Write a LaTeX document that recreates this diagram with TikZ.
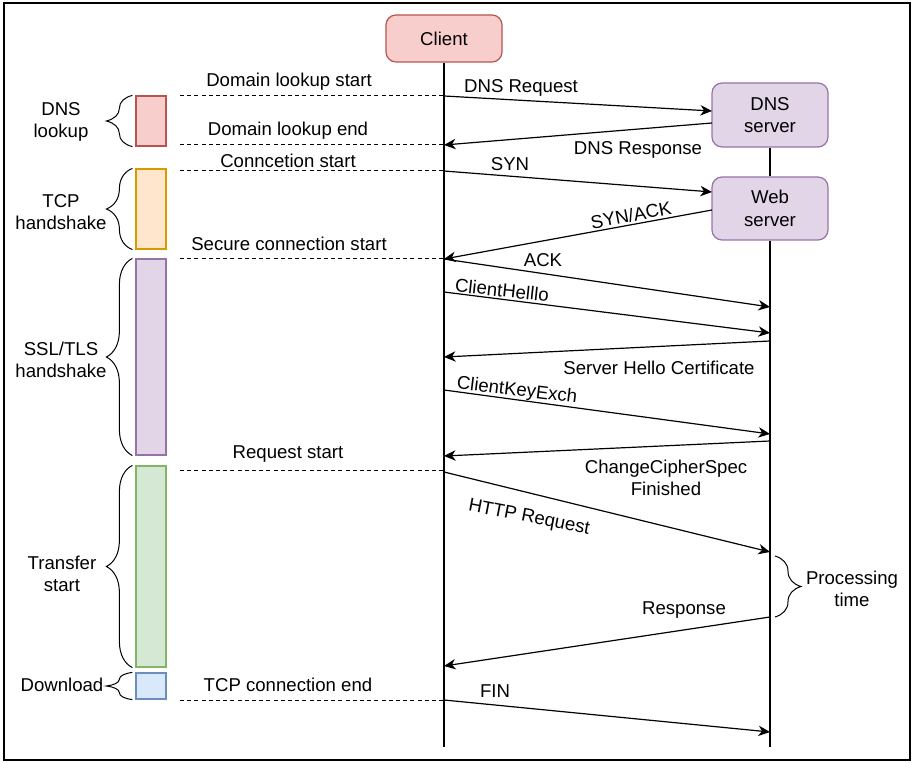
\documentclass[tikz,border=0pt]{standalone}
\usepackage{fontspec}
\setmainfont{Liberation Sans}
\usetikzlibrary{arrows.meta,positioning,decorations.pathreplacing}

\definecolor{redfill}{HTML}{F8CECC}
\definecolor{redline}{HTML}{B85450}
\definecolor{orangefill}{HTML}{FFE6CC}
\definecolor{orangeline}{HTML}{D79B00}
\definecolor{purplefill}{HTML}{E1D5E7}
\definecolor{purpleline}{HTML}{9673A6}
\definecolor{greenfill}{HTML}{D5E8D4}
\definecolor{greenline}{HTML}{82B366}
\definecolor{bluefill}{HTML}{DAE8FC}
\definecolor{blueline}{HTML}{6C8EBF}

\begin{document}
\begin{tikzpicture}[x=0.5pt,y=-0.5pt,font=\fontsize{9.3}{11.2}\selectfont,
                    msg/.style={-{Stealth[length=5.8pt,width=5.2pt,inset=1.8pt]},line width=0.6pt},
                    life/.style={line width=0.6pt},
                    stampline/.style={dash pattern=on 2pt off 1.6pt,line width=0.5pt},
                    actor/.style={draw,rounded corners=5pt,line width=0.6pt,align=center,
                                  minimum width=58pt},
                    phase/.style={draw,line width=0.6pt,minimum width=15pt,inner sep=0pt},
                    lbl/.style={inner sep=0pt,align=center,yshift=-1pt},
                    curly/.style={decorate,decoration={brace,amplitude=13pt},line width=0.5pt}]
  \useasboundingbox (0,0) rectangle (914,763);
  \draw[line width=0.7pt] (4,3) rectangle (910,760);

  % actors
  \node[actor, fill=redfill, draw=redline, minimum height=23.5pt] (client) at (444,38.5) {Client};
  \node[actor, fill=purplefill, draw=purpleline, minimum height=32pt] (dns) at (770,115) {DNS\\server};
  \node[actor, fill=purplefill, draw=purpleline, minimum height=31.5pt] (web) at (770,208.5) {Web\\server};

  % lifelines
  \coordinate (cend) at (444,747);
  \coordinate (send) at (770,747);
  \draw[life] (client.south) -- (cend);
  \draw[life] (dns.south) -- (web.north);
  \draw[life] (web.south) -- (send);

  % phase bars
  \node[phase, fill=redfill, draw=redline, minimum height=25pt]        (dnsbar)  at (151,121)   {};
  \node[phase, fill=orangefill, draw=orangeline, minimum height=40pt]  (tcpbar)  at (151,209)   {};
  \node[phase, fill=purplefill, draw=purpleline, minimum height=98pt]  (sslbar)  at (151,357)   {};
  \node[phase, fill=greenfill, draw=greenline, minimum height=100.5pt] (xferbar) at (151,566.5) {};
  \node[phase, fill=bluefill, draw=blueline, minimum height=13pt]      (dlbar)   at (151,686)   {};

  \draw[curly] ([xshift=-1.5pt]dnsbar.south west)  -- ([xshift=-1.5pt]dnsbar.north west);
  \draw[curly] ([xshift=-1.5pt]tcpbar.south west)  -- ([xshift=-1.5pt]tcpbar.north west);
  \draw[curly] ([xshift=-1.5pt]sslbar.south west)  -- ([xshift=-1.5pt]sslbar.north west);
  \draw[curly] ([xshift=-1.5pt]xferbar.south west) -- ([xshift=-1.5pt]xferbar.north west);
  \draw[curly] ([xshift=-1.5pt]dlbar.south west)   -- ([xshift=-1.5pt]dlbar.north west);

  \node[lbl] (dnsphase)  at (61,120)  {DNS\\lookup};
  \node[lbl] (tcpphase)  at (61,210)  {TCP\\handshake};
  \node[lbl] (sslphase)  at (61,358)  {SSL/TLS\\handshake};
  \node[lbl] (xferphase) at (62,572)  {Transfer\\start};
  \node[lbl] (dlphase)   at (62,683)  {Download};

  % timing marks
  \coordinate (d1) at (180,96);  \coordinate (c1) at (444,96);
  \coordinate (d2) at (180,145); \coordinate (c2) at (444,145);
  \coordinate (d3) at (180,171); \coordinate (c3) at (444,171);
  \coordinate (d4) at (180,259); \coordinate (c4) at (444,259);
  \coordinate (d5) at (180,471); \coordinate (c5) at (444,471);
  \coordinate (d6) at (180,700); \coordinate (c6) at (444,700);
  \draw[stampline] (d1) -- (c1);
  \draw[stampline] (d2) -- (c2);
  \draw[stampline] (d3) -- (c3);
  \draw[stampline] (d4) -- (c4);
  \draw[stampline] (d5) -- (c5);
  \draw[stampline] (d6) -- (c6);

  \node[lbl] (t1) at (289,80)  {Domain lookup start};
  \node[lbl] (t2) at (288,129) {Domain lookup end};
  \node[lbl] (t3) at (288,159) {Conncetion start};
  \node[lbl] (t4) at (289,242) {Secure connection start};
  \node[lbl] (t5) at (288,452) {Request start};
  \node[lbl] (t6) at (288,683) {TCP connection end};

  % message ends
  \coordinate (dnsin)   at (712,111);
  \coordinate (dnsout)  at (712,123);
  \coordinate (webin)   at (712,192);
  \coordinate (webout)  at (712,210);
  \coordinate (ackin)   at (770,307);
  \coordinate (hello)   at (444,292);
  \coordinate (helloin) at (770,333);
  \coordinate (shout)   at (770,341);
  \coordinate (shin)    at (444,357);
  \coordinate (kex)     at (444,390);
  \coordinate (kexin)   at (770,434);
  \coordinate (ccsout)  at (770,441);
  \coordinate (ccsin)   at (444,456);
  \coordinate (httpout) at (444,472);
  \coordinate (httpin)  at (770,552);
  \coordinate (respout) at (770,617);
  \coordinate (respin)  at (444,666);
  \coordinate (finin)   at (770,732);

  \draw[msg] (c1) -- (dnsin);
  \draw[msg] (dnsout) -- (c2);
  \draw[msg] (c3) -- (webin);
  \draw[msg] (webout) -- (c4);
  \draw[msg] (c4) -- (ackin);
  \draw[msg] (hello) -- (helloin);
  \draw[msg] (shout) -- (shin);
  \draw[msg] (kex) -- (kexin);
  \draw[msg] (ccsout) -- (ccsin);
  \draw[msg] (httpout) -- (httpin);
  \draw[msg] (respout) -- (respin);
  \draw[msg] (c6) -- (finin);

  \node[lbl] (m1)  at (521,86)  {DNS Request};
  \node[lbl] (m2)  at (638,148) {DNS Response};
  \node[lbl] (m3)  at (510,162) {SYN};
  \node[lbl, rotate=11] (m4) at (631,213) {SYN/ACK};
  \node[lbl] (m5)  at (543,258) {ACK};
  \node[lbl, rotate=-6] (m6) at (502,288) {ClientHelllo};
  \node[lbl] (m7)  at (659,366) {Server Hello Certificate};
  \node[lbl, rotate=-7] (m8) at (517,389) {ClientKeyExch};
  \node[lbl] (m9)  at (666,476) {ChangeCipherSpec\\Finished};
  \node[lbl, rotate=-11] (m10) at (529,516) {HTTP Request};
  \node[lbl] (m11) at (684,608) {Response};
  \node[lbl] (m12) at (495,689) {FIN};

  % server processing
  \coordinate (pt1) at (775,556);
  \coordinate (pt2) at (775,617);
  \draw[curly] (pt1) -- (pt2);
  \node[lbl] (proc) at (852,587) {Processing\\time};
\end{tikzpicture}
\end{document}
